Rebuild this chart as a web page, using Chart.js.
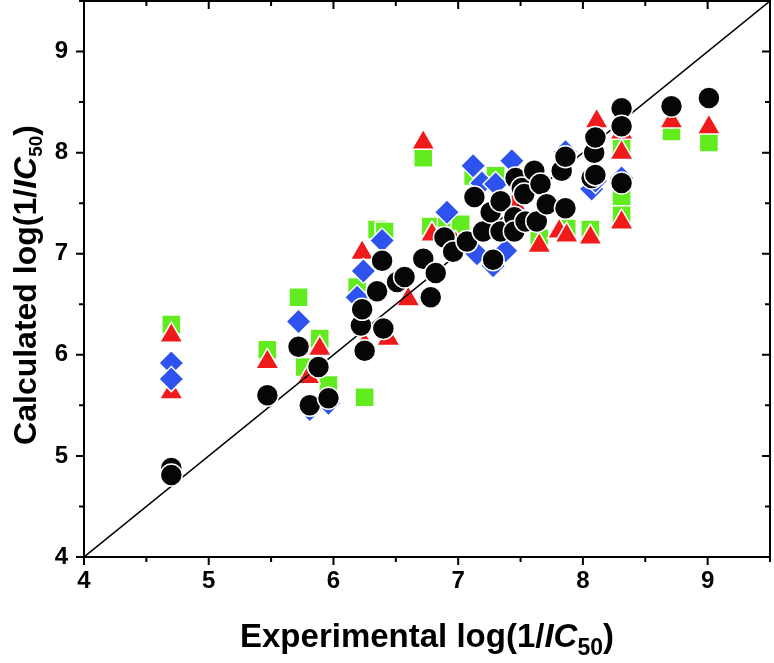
<!DOCTYPE html>
<html>
<head>
<meta charset="utf-8">
<script src="https://cdn.jsdelivr.net/npm/chart.js@4"></script>
<style>
  html, body { margin: 0; padding: 0; background: #fff; }
</style>
</head>
<body>
<canvas id="chart" width="774" height="663"></canvas>
<script>
// values (x = experimental, y = calculated)
const circleX = [4.70, 4.70, 5.47, 5.72, 5.81, 5.88, 5.96, 6.22, 6.23, 6.25, 6.35, 6.39, 6.40, 6.51, 6.57, 6.72, 6.78, 6.82, 6.89, 6.96, 7.07, 7.13, 7.20, 7.26, 7.28, 7.34, 7.34, 7.45, 7.45, 7.46, 7.51, 7.53, 7.54, 7.61, 7.63, 7.66, 7.71, 7.83, 7.86, 7.86, 8.07, 8.09, 8.10, 8.10, 8.31, 8.31, 8.31, 8.71, 9.01];
const circleY = [4.88, 4.81, 5.60, 6.08, 5.50, 5.88, 5.57, 6.29, 6.45, 6.04, 6.63, 6.93, 6.26, 6.72, 6.77, 6.95, 6.57, 6.81, 7.16, 7.02, 7.12, 7.56, 7.22, 7.41, 6.94, 7.52, 7.22, 7.36, 7.22, 7.75, 7.65, 7.59, 7.32, 7.82, 7.32, 7.69, 7.49, 7.82, 7.45, 7.96, 7.75, 8.00, 7.78, 8.15, 8.44, 8.26, 7.70, 8.46, 8.54];

const triangleX = [4.70, 4.70, 5.47, 5.80, 5.89, 6.23, 6.25, 6.44, 6.60, 6.72, 6.79, 6.98, 7.25, 7.45, 7.65, 7.81, 7.87, 8.06, 8.11, 8.31, 8.31, 8.31, 8.71, 9.01];
const triangleY = [6.19, 5.63, 5.93, 5.78, 6.06, 7.01, 6.10, 6.16, 6.55, 8.10, 7.19, 7.10, 7.30, 7.50, 7.08, 7.22, 7.18, 7.16, 8.31, 8.20, 8.00, 7.31, 8.31, 8.25];

const squareX = [4.70, 5.47, 5.72, 5.77, 5.89, 5.96, 6.25, 6.19, 6.35, 6.41, 6.72, 6.78, 6.91, 7.02, 7.12, 7.30, 7.65, 7.87, 8.06, 8.31, 8.31, 8.31, 8.71, 9.01];
const squareY = [6.30, 6.05, 6.57, 5.88, 6.16, 5.70, 5.58, 6.67, 7.24, 7.22, 7.95, 7.27, 7.27, 7.29, 7.77, 7.77, 7.15, 7.25, 7.24, 7.39, 7.57, 8.05, 8.21, 8.10];

const diamondX = [4.70, 4.70, 5.72, 5.81, 5.96, 6.19, 6.24, 6.39, 6.91, 7.12, 7.19, 7.28, 7.15, 7.30, 7.38, 7.43, 7.86, 8.07, 8.10, 8.31];
const diamondY = [5.92, 5.76, 6.33, 5.46, 5.52, 6.57, 6.83, 7.13, 7.41, 7.87, 7.70, 6.88, 7.00, 7.69, 7.03, 7.92, 8.01, 7.64, 7.72, 7.75];

const lineEnds = [4, 9.5];
const axisMin = 4, axisMax = 9.5;

const FONT = "'Liberation Sans Narrow', 'Liberation Sans', Arial, sans-serif";

function pts(xs, ys) {
  return xs.map((x, i) => ({ x: x, y: ys[i] }));
}

function richText(ctx, parts, cx, cy) {
  let total = 0;
  parts.forEach(p => { ctx.font = p.font; p.w = ctx.measureText(p.t).width; total += p.w; });
  let pos = cx - total / 2;
  parts.forEach(p => {
    ctx.font = p.font;
    ctx.fillText(p.t, pos, cy + (p.dy || 0));
    pos += p.w;
  });
}

// frame, minor/mirror ticks and the two axis titles (mixed italic/subscript)
const framePlugin = {
  id: 'frame',
  afterDraw(chart) {
    const { ctx, chartArea: a, scales: { x, y } } = chart;
    ctx.save();
    ctx.strokeStyle = '#000';
    ctx.lineWidth = 2;
    ctx.strokeRect(a.left, a.top, a.right - a.left, a.bottom - a.top);
    ctx.beginPath();
    for (let v = axisMin; v <= axisMax + 0.001; v += 0.5) {
      const len = Number.isInteger(v) ? 8 : 5;
      const px = x.getPixelForValue(v);
      const py = y.getPixelForValue(v);
      ctx.moveTo(px, a.bottom); ctx.lineTo(px, a.bottom + len);
      ctx.moveTo(px, a.top); ctx.lineTo(px, a.top + len);
      ctx.moveTo(a.left, py); ctx.lineTo(a.left - len, py);
      ctx.moveTo(a.right, py); ctx.lineTo(a.right - len, py);
    }
    ctx.stroke();

    ctx.fillStyle = '#000';
    ctx.textBaseline = 'alphabetic';
    richText(ctx, [
      { t: 'Experimental log(1/', font: 'bold 33px ' + FONT },
      { t: 'IC', font: 'italic bold 33px ' + FONT },
      { t: '50', font: 'bold 23px ' + FONT, dy: 8 },
      { t: ')', font: 'bold 33px ' + FONT }
    ], (a.left + a.right) / 2, 647);

    ctx.translate(36, (a.top + a.bottom) / 2 + 6);
    ctx.rotate(-Math.PI / 2);
    richText(ctx, [
      { t: 'Calculated log(1/', font: 'bold 32px ' + FONT },
      { t: 'IC', font: 'italic bold 32px ' + FONT },
      { t: '50', font: 'bold 19px ' + FONT, dy: 6 },
      { t: ')', font: 'bold 32px ' + FONT }
    ], 0, 0);
    ctx.restore();
  }
};

const marker = { borderColor: '#fff', borderWidth: 1.5 };

const tickFont = { family: FONT, size: 24, weight: 'bold' };

new Chart(document.getElementById('chart'), {
  type: 'scatter',
  data: {
    datasets: [
      { label: 'circles', data: pts(circleX, circleY), pointStyle: 'circle', pointRadius: 11,
        backgroundColor: '#060606', ...marker, order: 1 },
      { label: 'y = x', type: 'line', data: pts(lineEnds, lineEnds), borderColor: '#000',
        borderWidth: 1.5, pointRadius: 0, fill: false, order: 2 },
      { label: 'diamonds', data: pts(diamondX, diamondY), pointStyle: 'rectRot', pointRadius: 12.5,
        backgroundColor: '#2d52ee', ...marker, order: 3 },
      { label: 'triangles', data: pts(triangleX, triangleY), pointStyle: 'triangle', pointRadius: 13.5,
        backgroundColor: '#f01a1a', ...marker, order: 4 },
      { label: 'squares', data: pts(squareX, squareY), pointStyle: 'rect', pointRadius: 13.5,
        backgroundColor: '#62ec1f', ...marker, order: 5 }
    ]
  },
  options: {
    responsive: false,
    animation: false,
    layout: { autoPadding: false, padding: { top: 1, right: 4, left: 0, bottom: 0 } },
    plugins: { legend: { display: false }, tooltip: { enabled: false } },
    scales: {
      x: {
        type: 'linear', min: axisMin, max: axisMax,
        afterFit(scale) { scale.height = 106; scale.paddingLeft = 0; scale.paddingRight = 0; },
        grid: { display: false, drawTicks: false },
        border: { display: true, color: '#000', width: 2 },
        ticks: {
          stepSize: 1, includeBounds: false, padding: 10, color: '#000',
          font: tickFont
        }
      },
      y: {
        type: 'linear', min: axisMin, max: axisMax,
        afterFit(scale) { scale.width = 84; scale.paddingTop = 0; scale.paddingBottom = 0; },
        grid: { display: false, drawTicks: false },
        border: { display: true, color: '#000', width: 2 },
        ticks: {
          stepSize: 1, includeBounds: false, padding: 16, color: '#000',
          font: tickFont
        }
      }
    }
  },
  plugins: [framePlugin]
});
</script>
</body>
</html>
